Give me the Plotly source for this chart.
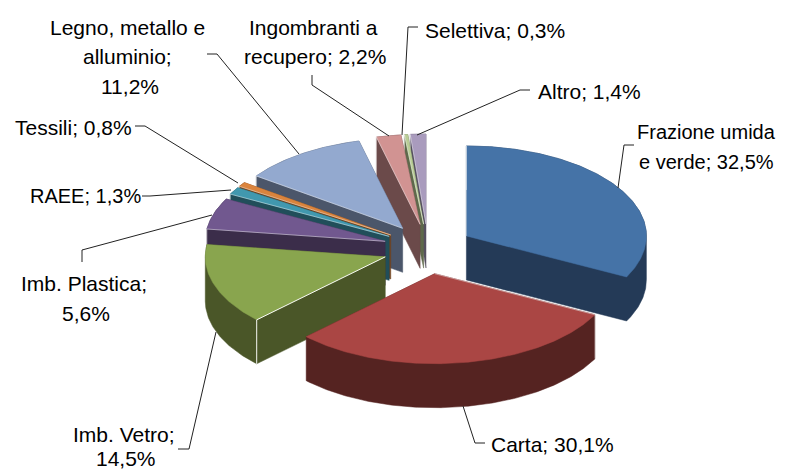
import math
import plotly.graph_objects as go

# ---- data ----
categories = ["Frazione umida e verde", "Carta", "Imb. Vetro", "Imb. Plastica", "RAEE",
              "Tessili", "Legno, metallo e alluminio", "Ingombranti a recupero", "Selettiva", "Altro"]
values = [32.5, 30.1, 14.5, 5.6, 1.3, 0.8, 11.2, 2.2, 0.3, 1.4]
label_texts = ["Legno, metallo e", "alluminio;", "11,2%",
               "Ingombranti a", "recupero; 2,2%",
               "Selettiva; 0,3%",
               "Altro; 1,4%",
               "Frazione umida", "e verde; 32,5%",
               "Tessili; 0,8%",
               "RAEE; 1,3%",
               "Imb. Plastica;", "5,6%",
               "Imb. Vetro;", "14,5%",
               "Carta; 30,1%"]

# ---- styles and layout ----
top_colors = ["#4573A7", "#AA4644", "#89A54E", "#71588F", "#4198AF",
              "#DB843D", "#93A9CF", "#D19392", "#B9CD96", "#A99BBD"]
wall_colors = ["#243A57", "#552321", "#4A5628", "#3B2D4A", "#214E5A",
               "#70431E", "#4B566A", "#6B4A4A", "#5E694B", "#565061"]
label_pos = [(127, 27), (127, 56), (130, 86),
             (313, 27), (315, 56),
             (495, 30),
             (589, 91),
             (706, 132), (706, 162),
             (73, 127),
             (85, 196),
             (84, 283), (86, 313),
             (124, 434), (126, 458),
             (552, 444)]
LABEL_SIZE = 21
label_size_override = {"Frazione umida": 20, "e verde; 32,5%": 20, "RAEE; 1,3%": 20}

leaders = [
    [(207, 54), (217, 54), (299, 154)],
    [(312, 75), (312, 85), (389, 136)],
    [(418, 27), (408, 27), (402, 135)],
    [(530, 90), (520, 90), (417, 135)],
    [(634, 145), (624, 145), (618, 188)],
    [(135, 126), (145, 126), (238, 183)],
    [(142, 196), (150, 196), (231, 190)],
    [(82, 262), (82, 250), (212, 215)],
    [(178, 449), (189, 449), (216, 332)],
    [(485, 443), (475, 443), (463, 406)],
]

CX, CY = 428, 249      # pie centre
RX, RY = 180, 90       # ellipse radii
EX, EY = 45, 25        # explosion
DEPTH = 44


def hull(pts):
    pts = sorted(set(pts))
    def half(seq):
        out = []
        for p in seq:
            while len(out) > 1 and ((out[-1][0]-out[-2][0])*(p[1]-out[-2][1])
                                    - (out[-1][1]-out[-2][1])*(p[0]-out[-2][0])) <= 0:
                out.pop()
            out.append(p)
        return out[:-1]
    return half(pts) + half(pts[::-1])


total = sum(values)
slices = []
angle = 0.0
for i, v in enumerate(values):
    a0 = angle
    a1 = angle + v / total * 360
    angle = a1
    mid = math.radians((a0 + a1) / 2)
    ax = CX + EX * math.sin(mid)
    ay = CY - EY * math.cos(mid)
    n = max(3, int((a1 - a0) * 1.5))
    rim = []
    for k in range(n + 1):
        t = math.radians(a0 + (a1 - a0) * k / n)
        rim.append((ax + RX * math.sin(t), ay - RY * math.cos(t)))
    slices.append(dict(i=i, cosm=math.cos(mid), apex=(ax, ay), rim=rim))

fig = go.Figure()
for s in sorted(slices, key=lambda d: -d["cosm"]):
    i = s["i"]
    top = [s["apex"]] + s["rim"]
    wall = hull(top + [(x, y + DEPTH) for x, y in top])
    fig.add_trace(go.Scatter(
        x=[p[0] for p in wall] + [wall[0][0]], y=[p[1] for p in wall] + [wall[0][1]],
        mode="lines", fill="toself", fillcolor=wall_colors[i],
        line=dict(width=0.5, color=wall_colors[i]), hoverinfo="skip", showlegend=False))
    fig.add_trace(go.Scatter(
        x=[p[0] for p in top] + [top[0][0]], y=[p[1] for p in top] + [top[0][1]],
        mode="lines", fill="toself", fillcolor=top_colors[i],
        line=dict(width=0.5, color=top_colors[i]), name=categories[i],
        hoverinfo="name", showlegend=False))
    # thin light highlight along the cut edges and the front corner
    corner = s["rim"][0]
    alpha = 0.95 if categories[i] == "Imb. Vetro" else 0.45
    fig.add_trace(go.Scatter(
        x=[s["apex"][0], corner[0], corner[0]],
        y=[s["apex"][1], corner[1], corner[1] + DEPTH],
        mode="lines", line=dict(width=1, color=f"rgba(255,255,255,{alpha})"),
        hoverinfo="skip", showlegend=False))

for pts in leaders:
    fig.add_trace(go.Scatter(x=[p[0] for p in pts], y=[p[1] for p in pts], mode="lines",
                             line=dict(width=1, color="#222222"),
                             hoverinfo="skip", showlegend=False))

for text, (x, y) in zip(label_texts, label_pos):
    fig.add_annotation(x=x, y=y, text=text, showarrow=False, xanchor="center", yanchor="middle",
                       font=dict(family="Liberation Sans", color="#000000",
                                 size=label_size_override.get(text, LABEL_SIZE)))

fig.update_layout(
    width=792, height=470, margin=dict(l=0, r=0, t=0, b=0),
    paper_bgcolor="white", plot_bgcolor="white", showlegend=False,
    xaxis=dict(range=[0, 792], visible=False, fixedrange=True),
    yaxis=dict(range=[470, 0], visible=False, fixedrange=True),
)
fig.write_html("out.html", config=dict(displayModeBar=False),
               post_script="document.body.style.margin='0';document.body.style.overflow='hidden';")
